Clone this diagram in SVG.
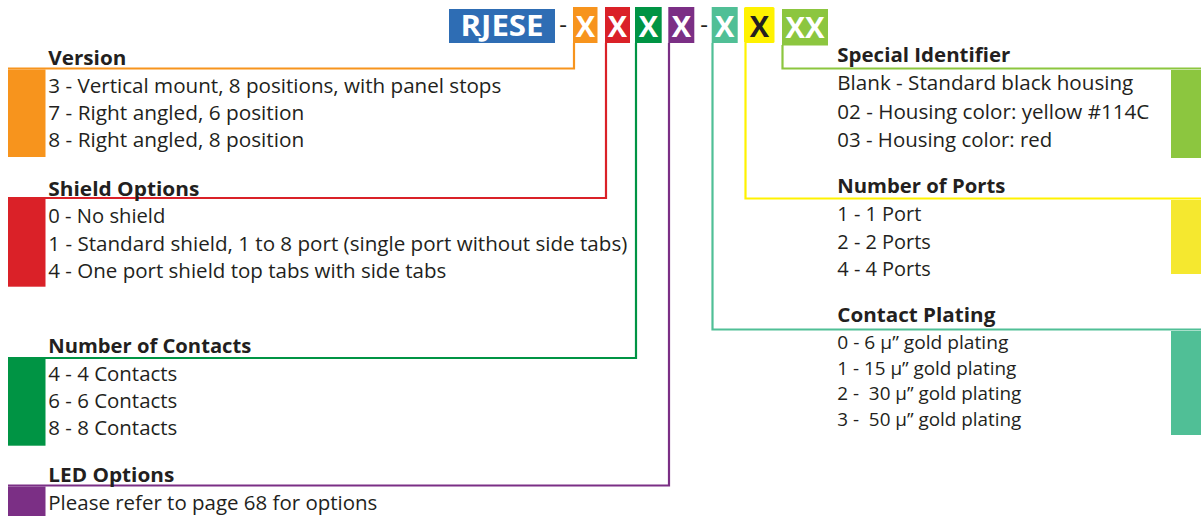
<svg xmlns="http://www.w3.org/2000/svg" width="1201" height="516" viewBox="0 0 1201 516">
<style>
.t{font-family:"Open Sans","Liberation Sans",sans-serif;font-size:20px;fill:#231F20}
.s{font-family:"Open Sans","Liberation Sans",sans-serif;font-size:17.5px;fill:#231F20;white-space:pre}
.h{font-family:"Open Sans","Liberation Sans",sans-serif;font-size:20px;font-weight:bold;fill:#231F20}
.x{font-family:"Open Sans","Liberation Sans",sans-serif;font-size:29px;font-weight:bold;fill:#fff;text-anchor:middle}
.d{font-family:"Open Sans","Liberation Sans",sans-serif;font-size:24px;fill:#231F20;text-anchor:middle}
.c{fill:none;stroke-width:2.2}
</style>
<rect width="1201" height="516" fill="#fff"/>

<g id="connectors">
<polyline class="c" stroke="#F7941D" points="574,43 574,68.5 8,68.5"/>
<polyline class="c" stroke="#DA2128" points="606,43 606,198 8,198"/>
<polyline class="c" stroke="#009444" points="636,43 636,358 8,358"/>
<polyline class="c" stroke="#7B2F85" points="669,43 669,485.5 8,485.5"/>
<polyline class="c" stroke="#50BF96" points="712.5,43 712.5,329.5 1201,329.5"/>
<polyline class="c" stroke="#FFF200" points="745.5,43 745.5,198.5 1201,198.5"/>
<polyline class="c" stroke="#8CC63F" points="782.5,45 782.5,68.5 1201,68.5"/>
</g>

<g id="part-number">
<rect x="449" y="9" width="106" height="34" fill="#2E6DB4"/>
<text class="x" x="502" y="36" textLength="83" lengthAdjust="spacingAndGlyphs">RJESE</text>
<text class="d" x="563" y="33">-</text>
<rect x="573" y="7" width="24.5" height="36" fill="#F7941D"/>
<text class="x" x="585.3" y="36.5">X</text>
<rect x="605" y="7" width="25" height="36" fill="#DA2128"/>
<text class="x" x="617.5" y="36.5">X</text>
<rect x="635" y="7" width="26.7" height="36" fill="#009444"/>
<text class="x" x="648.3" y="36.5">X</text>
<rect x="668.3" y="7" width="26" height="36" fill="#7B2F85"/>
<text class="x" x="681.3" y="36.5">X</text>
<text class="d" x="704" y="33">-</text>
<rect x="711.7" y="7" width="26" height="36" fill="#50BF96"/>
<text class="x" x="724.7" y="36.5">X</text>
<rect x="744" y="7" width="30.5" height="36" rx="1.5" fill="#FFF200"/>
<text class="x" x="759.3" y="36.5" style="fill:#231F20">X</text>
<rect x="782" y="9" width="46" height="36.5" fill="#8CC63F"/>
<text class="x" x="805" y="37.5" textLength="39" lengthAdjust="spacingAndGlyphs">XX</text>
</g>

<g id="version">
<rect x="8" y="69.5" width="37.5" height="87.5" fill="#F7941D"/>
<text class="h" x="48.3" y="65" textLength="78" lengthAdjust="spacingAndGlyphs">Version</text>
<text class="t" x="48.3" y="93.3" textLength="453" lengthAdjust="spacingAndGlyphs">3 - Vertical mount, 8 positions, with panel stops</text>
<text class="t" x="48.3" y="120.3" textLength="256" lengthAdjust="spacingAndGlyphs">7 - Right angled, 6 position</text>
<text class="t" x="48.3" y="147" textLength="256" lengthAdjust="spacingAndGlyphs">8 - Right angled, 8 position</text>
</g>

<g id="shield-options">
<rect x="8" y="199" width="37.5" height="87.7" fill="#DA2128"/>
<text class="h" x="48.3" y="195.5" textLength="151" lengthAdjust="spacingAndGlyphs">Shield Options</text>
<text class="t" x="48.3" y="223.3" textLength="117" lengthAdjust="spacingAndGlyphs">0 - No shield</text>
<text class="t" x="48.3" y="250.7" textLength="579" lengthAdjust="spacingAndGlyphs">1 - Standard shield, 1 to 8 port (single port without side tabs)</text>
<text class="t" x="48.3" y="278" textLength="398" lengthAdjust="spacingAndGlyphs">4 - One port shield top tabs with side tabs</text>
</g>

<g id="number-of-contacts">
<rect x="8" y="359" width="37.5" height="86.7" fill="#009444"/>
<text class="h" x="48.3" y="352.7" textLength="203" lengthAdjust="spacingAndGlyphs">Number of Contacts</text>
<text class="t" x="48.3" y="380.7" textLength="129" lengthAdjust="spacingAndGlyphs">4 - 4 Contacts</text>
<text class="t" x="48.3" y="407.7" textLength="129" lengthAdjust="spacingAndGlyphs">6 - 6 Contacts</text>
<text class="t" x="48.3" y="435" textLength="129" lengthAdjust="spacingAndGlyphs">8 - 8 Contacts</text>
</g>

<g id="led-options">
<rect x="8" y="486.5" width="37.5" height="29.5" fill="#7B2F85"/>
<text class="h" x="48.3" y="481.7" textLength="126" lengthAdjust="spacingAndGlyphs">LED Options</text>
<text class="t" x="48.3" y="509.5" textLength="329" lengthAdjust="spacingAndGlyphs">Please refer to page 68 for options</text>
</g>

<g id="special-identifier">
<rect x="1171" y="70" width="30" height="88" fill="#8CC63F"/>
<text class="h" x="837.3" y="62" textLength="173" lengthAdjust="spacingAndGlyphs">Special Identifier</text>
<text class="t" x="837.3" y="90.3" textLength="296" lengthAdjust="spacingAndGlyphs">Blank - Standard black housing</text>
<text class="t" x="837.3" y="118.7" textLength="312" lengthAdjust="spacingAndGlyphs">02 - Housing color: yellow #114C</text>
<text class="t" x="837.3" y="146.7" textLength="215" lengthAdjust="spacingAndGlyphs">03 - Housing color: red</text>
</g>

<g id="number-of-ports">
<rect x="1171" y="200" width="30" height="74" fill="#F5E82F"/>
<text class="h" x="837.3" y="192.5" textLength="168" lengthAdjust="spacingAndGlyphs">Number of Ports</text>
<text class="t" x="837.3" y="221.3" textLength="84" lengthAdjust="spacingAndGlyphs">1 - 1 Port</text>
<text class="t" x="837.3" y="248.7" textLength="93.5" lengthAdjust="spacingAndGlyphs">2 - 2 Ports</text>
<text class="t" x="837.3" y="276" textLength="93.5" lengthAdjust="spacingAndGlyphs">4 - 4 Ports</text>
</g>

<g id="contact-plating">
<rect x="1171" y="331" width="30" height="104" fill="#50BF96"/>
<text class="h" x="837.3" y="321.7" textLength="158" lengthAdjust="spacingAndGlyphs">Contact Plating</text>
<text class="s" x="837.3" y="349.3" textLength="171" lengthAdjust="spacingAndGlyphs">0 - 6 µ” gold plating</text>
<text class="s" x="837.3" y="374.7" textLength="179" lengthAdjust="spacingAndGlyphs">1 - 15 µ” gold plating</text>
<text class="s" x="837.3" y="400" textLength="184" lengthAdjust="spacingAndGlyphs" xml:space="preserve">2 -  30 µ” gold plating</text>
<text class="s" x="837.3" y="425.5" textLength="184" lengthAdjust="spacingAndGlyphs" xml:space="preserve">3 -  50 µ” gold plating</text>
</g>
</svg>
